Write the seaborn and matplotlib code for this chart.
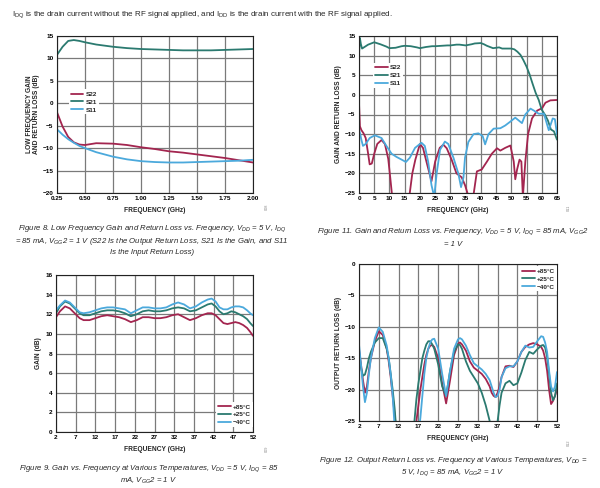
import matplotlib
matplotlib.use('Agg')
import pandas as pd
import matplotlib.pyplot as plt
import seaborn as sns

sns.set_theme(style="white")
plt.rcParams['font.family'] = ['Liberation Sans', 'DejaVu Sans']
plt.rcParams['mathtext.fontset'] = 'custom'
plt.rcParams['mathtext.rm'] = 'Liberation Sans:normal'
plt.rcParams['mathtext.it'] = 'Liberation Sans:italic'
plt.rcParams['mathtext.default'] = 'it'

# colours of the datasheet traces
RED = '#a3254f'
TEAL = '#2b7a70'
BLUE = '#4ba9dc'

# ---------------- Figure 8: low frequency S-parameters ----------------
f8_freq = [0.25, 0.30, 0.35, 0.40, 0.45, 0.50, 0.60, 0.75, 0.875, 1.00, 1.125,
           1.25, 1.375, 1.50, 1.625, 1.75, 1.875, 2.00]
f8_s22 = [-2.0, -5.2, -7.5, -8.7, -9.2, -9.3, -8.9, -9.0, -9.3, -9.8, -10.2,
          -10.7, -11.0, -11.4, -11.8, -12.2, -12.7, -13.2]
f8_s21 = [10.8, 12.6, 13.9, 14.1, 13.9, 13.6, 13.1, 12.6, 12.3, 12.1, 12.0,
          11.9, 11.8, 11.8, 11.8, 11.9, 12.0, 12.1]
f8_s11 = [-5.8, -7.0, -8.0, -8.8, -9.5, -10.0, -10.9, -11.9, -12.5, -12.9, -13.1,
          -13.2, -13.2, -13.1, -13.0, -12.9, -12.8, -12.6]

# ---------------- Figure 11: broadband S-parameters ----------------
f11_s22_freq = [0, 0.3, 0.8, 1.5, 2.2, 3, 3.5, 4.2, 5, 6, 7.4, 8.5, 9.6, 10.3, 10.9,
                16.5, 17.5, 18.5, 20, 21, 22.3, 23.8, 25, 26.5, 27.7, 28.8, 30.4, 32,
                33.7, 34.8, 36, 37.5, 38.7, 40.3, 42, 43.6, 45.3, 46.4, 48, 49.7, 50.8,
                51.3, 51.9, 52.7, 53.3, 53.8, 54.6, 55.5, 56.8, 58.5, 60.1, 61.2, 62.8, 65]
f11_s22 = [-2.0, -8.0, -9.0, -9.8, -11.0, -15.0, -17.7, -17.5, -15.0, -12.5, -11.5,
           -12.5, -16.3, -21.4, -26.0, -26.0, -20.0, -16.5, -12.5, -13.5, -17.5, -22.0,
           -17.0, -13.5, -12.7, -13.6, -16.5, -20.0, -21.0, -23.0, -26.0, -26.0, -19.5,
           -19.0, -17.0, -15.0, -13.6, -14.2, -13.5, -12.9, -17.0, -21.5, -19.0, -16.5,
           -17.0, -26.0, -17.0, -10.0, -6.0, -4.0, -3.4, -2.0, -1.4, -1.3]
f11_s21_freq = [0, 0.3, 0.6, 1, 2, 3, 5, 7, 9, 10, 12, 14, 15, 17, 19, 20, 22, 24, 25,
                27, 29, 30, 32, 33, 35, 37, 38, 40, 41, 42, 44, 45, 46, 47, 48, 49, 50,
                51, 52, 53, 54, 55, 56, 57, 58, 59, 60, 61, 62, 63, 64, 65]
f11_s21 = [10.5, 14.5, 13.0, 11.8, 12.3, 12.8, 13.4, 12.9, 12.3, 11.9, 12.0, 12.4,
           12.5, 12.4, 12.1, 11.9, 12.2, 12.4, 12.4, 12.5, 12.6, 12.6, 12.8, 12.8,
           12.6, 12.9, 13.1, 13.2, 12.9, 12.5, 11.9, 12.0, 12.1, 11.8, 11.8, 11.8,
           11.8, 11.6, 11.0, 10.2, 8.8, 7.2, 5.2, 2.8, 0.5, -1.3, -3.8, -5.0, -6.5,
           -8.8, -9.3, -11.4]
f11_s11_freq = [0, 0.4, 0.8, 1.3, 2.2, 3.5, 5.2, 7.4, 9, 10.7, 12.3, 14, 15.4, 16.7,
                18.4, 20.5, 21.6, 22.7, 23.8, 24.7, 25.5, 26.6, 28.2, 29.3, 31, 32.6,
                33.5, 34.3, 34.8, 35.9, 37.6, 39.2, 40.6, 41.4, 42.5, 44.2, 46.4, 48,
                49.7, 51.3, 52.4, 53.5, 54.6, 56.3, 57.4, 59, 60.7, 62.3, 63.6, 64.3, 65]
f11_s11 = [-8.8, -10.0, -11.5, -13.0, -12.5, -11.0, -10.3, -11.0, -13.0, -15.0,
           -15.8, -16.5, -17.1, -16.0, -13.5, -12.2, -13.0, -17.0, -23.0, -26.0,
           -20.0, -14.0, -11.9, -12.5, -16.0, -20.0, -23.5, -21.0, -16.0, -12.0,
           -10.0, -9.8, -10.5, -12.6, -10.0, -8.6, -8.5, -7.8, -6.8, -5.8,
           -6.5, -7.2, -5.0, -3.5, -4.0, -4.8, -4.8, -9.0, -6.0, -6.2, -10.0]

# ---------------- Figure 9: gain vs temperature ----------------
f9_freq = [2, 3, 4.3, 5.5, 7, 8, 9, 10.5, 12, 13.5, 15, 16.5, 18, 19.5, 21, 22.5, 24,
           25.5, 27, 28.5, 30, 31.5, 33, 34.5, 36, 37.5, 39, 40.5, 41.5, 42.5, 43.5,
           44.5, 45.5, 46.5, 47.5, 48.5, 49.5, 50.5, 51.3, 52]
f9_p85 = [11.7, 12.3, 12.8, 12.6, 12.0, 11.6, 11.4, 11.4, 11.6, 11.8, 11.9, 11.8,
          11.7, 11.5, 11.2, 11.4, 11.7, 11.7, 11.6, 11.6, 11.7, 11.9, 12.0, 11.7,
          11.4, 11.6, 11.9, 12.1, 12.1, 11.9, 11.5, 11.1, 11.0, 11.1, 11.2, 11.1,
          10.9, 10.6, 10.2, 9.8]
f9_p25 = [12.1, 12.8, 13.3, 13.1, 12.5, 12.1, 11.9, 11.9, 12.1, 12.3, 12.4, 12.4,
          12.3, 12.1, 11.8, 12.0, 12.3, 12.4, 12.3, 12.3, 12.4, 12.6, 12.7, 12.6,
          12.3, 12.4, 12.7, 13.0, 13.1, 12.8, 12.3, 12.0, 12.1, 12.3, 12.2, 12.0,
          11.8, 11.5, 11.1, 10.8]
f9_m40 = [12.4, 12.9, 13.4, 13.2, 12.6, 12.2, 12.1, 12.2, 12.4, 12.6, 12.7, 12.7,
          12.6, 12.5, 12.1, 12.4, 12.7, 12.7, 12.6, 12.6, 12.7, 13.0, 13.2, 13.0,
          12.6, 12.8, 13.2, 13.5, 13.6, 13.3, 12.7, 12.5, 12.5, 12.7, 12.8, 12.8,
          12.7, 12.4, 12.1, 11.9]

# ---------------- Figure 12: output return loss vs temperature ----------------
f12_freq = [2, 2.5, 3, 3.5, 4, 4.5, 5, 6, 7, 8, 9, 9.5, 10, 10.5, 11, 11.5, 12,
            15.5, 16, 16.5, 17, 17.5, 18, 18.5, 19, 19.5, 20, 20.5, 21, 22, 23, 24,
            25, 26, 27, 27.5, 28, 29, 30, 31, 32, 33, 34, 35, 35.5, 36, 36.5, 37,
            37.5, 38, 39, 40, 41, 42, 43, 44, 45, 46, 47, 48, 48.5, 49, 49.5, 50,
            50.5, 51, 51.5, 52]
f12_p85 = [-13.5, -16.0, -18.5, -20.5, -19.5, -17.0, -15.0, -12.3, -10.7, -11.3,
           -13.5, -15.5, -18.0, -21.0, -24.0, -27.0, -28.0, -28.0, -27.0, -25.0,
           -22.5, -20.0, -18.0, -16.0, -14.5, -13.5, -13.0, -12.9, -13.2, -15.0,
           -19.0, -22.2, -18.5, -14.5, -12.7, -12.5, -12.8, -13.8, -15.5, -16.5,
           -17.0, -17.5, -18.3, -19.5, -20.5, -21.0, -21.2, -20.5, -19.5, -18.0,
           -16.3, -16.2, -16.4, -15.5, -14.0, -13.2, -12.8, -12.6, -12.8, -13.2,
           -13.8, -15.0, -17.0, -20.0, -22.3, -21.8, -21.0, -20.0]
f12_p25 = [-14.0, -16.5, -17.8, -17.6, -16.5, -15.0, -14.0, -12.5, -11.8, -11.8,
           -13.5, -15.0, -17.5, -20.0, -23.0, -27.0, -28.0, -28.0, -25.0, -21.5,
           -19.0, -17.0, -15.0, -13.8, -12.8, -12.3, -12.3, -12.8, -13.5, -16.0,
           -19.5, -21.0, -17.0, -14.0, -12.8, -12.9, -13.5, -15.5, -17.0, -18.0,
           -19.0, -20.5, -22.5, -25.0, -27.0, -28.0, -27.0, -25.0, -22.5, -20.5,
           -19.0, -18.6, -19.3, -19.0, -17.3, -15.3, -14.0, -14.3, -13.6, -13.0,
           -12.9, -13.3, -14.8, -17.5, -20.5, -21.7, -21.0, -19.0]
f12_m40 = [-12.8, -16.0, -19.5, -22.0, -20.5, -17.5, -15.0, -11.8, -10.1, -10.8,
           -13.0, -15.0, -17.5, -21.0, -26.0, -28.0, -28.0, -28.0, -28.0, -28.0,
           -27.0, -24.5, -21.0, -17.5, -15.0, -13.5, -12.5, -12.0, -11.9, -13.5,
           -17.5, -21.0, -17.0, -13.5, -12.0, -11.8, -12.0, -13.0, -14.5, -15.8,
           -16.3, -16.8, -17.5, -18.5, -19.5, -20.5, -21.2, -21.0, -20.0, -18.0,
           -16.6, -16.3, -16.3, -15.5, -14.0, -13.0, -13.3, -13.2, -12.3, -11.5,
           -11.6, -12.5, -14.0, -17.0, -19.5, -20.3, -19.5, -17.2]


def long_df(series):
    parts = []
    for name, (x, y) in series.items():
        parts.append(pd.DataFrame({'freq': x, 'val': y, 'trace': name}))
    return pd.concat(parts, ignore_index=True)


def px_axes(fig, left, right, top, bottom):
    W, H = 600, 488
    return fig.add_axes([left / W, 1 - bottom / H, (right - left) / W, (bottom - top) / H])


def style_panel(ax, xlim, ylim, xticks, yticks, xfmt, ylabel):
    ax.set_xlim(*xlim)
    ax.set_ylim(*ylim)
    ax.set_xticks(xticks)
    ax.set_yticks(yticks)
    ax.set_xticklabels([xfmt.format(v) for v in xticks], fontweight='bold')
    ax.set_yticklabels([('\u2212' if v < 0 else '') + str(abs(v)) for v in yticks],
                       fontweight='bold')
    ax.tick_params(labelsize=4.6, length=0, pad=2.5, colors='black')
    ax.grid(True, color='#7a7a7a', lw=0.9)
    for s in ax.spines.values():
        s.set_color('#222222')
        s.set_linewidth(0.8)
    ax.set_xlabel('FREQUENCY (GHz)', fontsize=4.8, fontweight='bold', labelpad=4)
    ax.set_ylabel(ylabel, fontsize=4.8, fontweight='bold', labelpad=2, linespacing=1.0)


def legend(ax, loc, anchor):
    sns.move_legend(ax, loc, bbox_to_anchor=anchor, title=None, frameon=True,
                    fontsize=4.6, handlelength=2.0, handletextpad=0.3,
                    labelspacing=0.38, borderpad=0.3, borderaxespad=0.0,
                    facecolor='white', edgecolor='none', framealpha=1.0, fancybox=False)
    for t in ax.get_legend().get_texts():
        t.set_fontweight('bold')


fig = plt.figure(figsize=(6, 4.88), dpi=100)

# Figure 8
ax8 = px_axes(fig, 57, 253, 36, 193)
df8 = long_df({'S22': (f8_freq, f8_s22), 'S21': (f8_freq, f8_s21), 'S11': (f8_freq, f8_s11)})
sns.lineplot(data=df8, x='freq', y='val', hue='trace', hue_order=['S22', 'S21', 'S11'],
             palette=[RED, TEAL, BLUE], estimator=None, lw=1.3, ax=ax8)
style_panel(ax8, (0.25, 2.0), (-20, 15), [0.25, 0.5, 0.75, 1.0, 1.25, 1.5, 1.75, 2.0],
            list(range(-20, 16, 5)), '{:.2f}', 'LOW FREQUENCY GAIN\nAND RETURN LOSS (dB)')
legend(ax8, 'upper left', (0.06, 0.66))

# Figure 11
ax11 = px_axes(fig, 359, 557, 36, 193)
df11 = long_df({'S22': (f11_s22_freq, f11_s22), 'S21': (f11_s21_freq, f11_s21),
                'S11': (f11_s11_freq, f11_s11)})
sns.lineplot(data=df11, x='freq', y='val', hue='trace', hue_order=['S22', 'S21', 'S11'],
             palette=[RED, TEAL, BLUE], estimator=None, lw=1.3, ax=ax11)
style_panel(ax11, (0, 65), (-25, 15), list(range(0, 66, 5)), list(range(-25, 16, 5)),
            '{:d}', 'GAIN AND RETURN LOSS (dB)')
legend(ax11, 'upper left', (0.07, 0.83))

# Figure 9
ax9 = px_axes(fig, 56, 253, 275, 432)
df9 = long_df({'+85°C': (f9_freq, f9_p85), '+25°C': (f9_freq, f9_p25),
               '\u221240°C': (f9_freq, f9_m40)})
sns.lineplot(data=df9, x='freq', y='val', hue='trace', palette=[RED, TEAL, BLUE],
             estimator=None, lw=1.3, ax=ax9)
style_panel(ax9, (2, 52), (0, 16), list(range(2, 53, 5)), list(range(0, 17, 2)),
            '{:d}', 'GAIN (dB)')
legend(ax9, 'lower right', (1.0, 0.03))

# Figure 12
ax12 = px_axes(fig, 359, 557, 264, 421)
df12 = long_df({'+85°C': (f12_freq, f12_p85), '+25°C': (f12_freq, f12_p25),
                '\u221240°C': (f12_freq, f12_m40)})
sns.lineplot(data=df12, x='freq', y='val', hue='trace', palette=[RED, TEAL, BLUE],
             estimator=None, lw=1.3, ax=ax12)
style_panel(ax12, (2, 52), (-25, 0), list(range(2, 53, 5)), list(range(-25, 1, 5)),
            '{:d}', 'OUTPUT RETURN LOSS (dB)')
legend(ax12, 'upper right', (1.0, 0.985))

# header and captions
fig.text(12 / 600, 1 - 15 / 488,
         'I$_\\mathrm{DQ}$ is the drain current without the RF signal applied, and '
         'I$_\\mathrm{DD}$ is the drain current with the RF signal applied.',
         fontsize=5.75, va='center', ha='left')

captions = [
    (152, [229, 241, 253], [
        'Figure 8. Low Frequency Gain and Return Loss vs. Frequency, V$_{DD}$ = 5 V, I$_{DQ}$',
        '= 85 mA, V$_{GG}$2 = 1 V (S22 Is the Output Return Loss, S21 Is the Gain, and S11',
        'Is the Input Return Loss)']),
    (453, [232, 245], [
        'Figure 11. Gain and Return Loss vs. Frequency, V$_{DD}$ = 5 V, I$_{DQ}$ = 85 mA, V$_{GG}$2',
        '= 1 V']),
    (149, [469, 481], [
        'Figure 9. Gain vs. Frequency at Various Temperatures, V$_{DD}$ = 5 V, I$_{DQ}$ = 85',
        'mA, V$_{GG}$2 = 1 V']),
    (453, [460, 473], [
        'Figure 12. Output Return Loss vs. Frequency at Various Temperatures, V$_{DD}$ =',
        '5 V, I$_{DQ}$ = 85 mA, V$_{GG}$2 = 1 V']),
]
for cx, ys, lines in captions:
    for y, line in zip(ys, lines):
        fig.text(cx / 600, 1 - y / 488, line, style='italic', fontsize=5.6,
                 ha='center', va='center')

# small figure codes at right of each plot
for x, y, code in [(267, 207, '008'), (569, 208, '011'), (267, 449, '009'), (569, 443, '012')]:
    fig.text(x / 600, 1 - y / 488, code, rotation=90, fontsize=2.8, color='#888888',
             ha='center', va='center')

fig.savefig('out.png', dpi=100)
